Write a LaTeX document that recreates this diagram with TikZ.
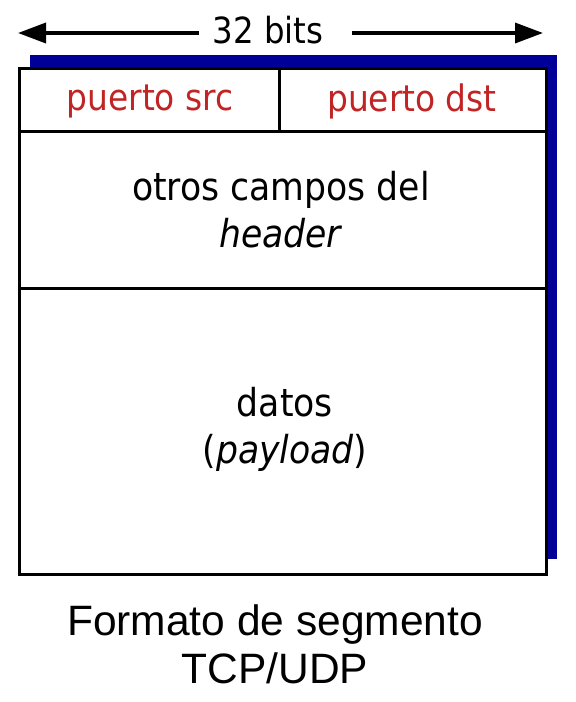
\documentclass[tikz,border=0pt]{standalone}
\usepackage{fontspec}
\setmainfont{DejaVu Sans Condensed}
\newfontfamily\captionfont{Liberation Sans}
\usetikzlibrary{arrows.meta}
\definecolor{portred}{RGB}{192,36,36}
\definecolor{shadowblue}{RGB}{0,0,153}
\tikzset{
  frame/.style={draw=black, line width=3pt},
  fieldtext/.style={font=\fontsize{38.5}{47}\selectfont, align=center, inner sep=0pt},
  porttext/.style={font=\fontsize{36.5}{44}\selectfont, inner sep=0pt, text=portred},
  bitstext/.style={font=\fontsize{36}{44}\selectfont, inner sep=0pt},
  widtharrow/.style={line width=3.5pt, -{Triangle[length=28pt,width=20pt]}},
  captiontext/.style={font=\captionfont\fontsize{42.5}{48}\selectfont, align=center, inner sep=0pt}
}
\begin{document}
\begin{tikzpicture}[x=1pt, y=-1pt]
  \useasboundingbox (0,0) rectangle (576,702);
  % drop shadow behind the segment box
  \fill[shadowblue] (30,55) rectangle (557,559);
  % segment box and its field dividers
  \filldraw[frame, fill=white] (19,68) rectangle (546,574);
  \draw[frame] (19,131) -- (546,131);
  \draw[frame] (279,68) -- (279,131);
  \draw[frame] (19,288) -- (546,288);
  % width label with arrows
  \node[bitstext] (bits) at (268,30) {32 bits};
  \coordinate (lefttip) at (18,33);
  \coordinate (righttip) at (543,33);
  \draw[widtharrow] (199,33) -- (lefttip);
  \draw[widtharrow] (352,33) -- (righttip);
  % field labels
  \node[porttext] (src) at (150,101) {puerto src};
  \node[porttext] (dst) at (412,101) {puerto dst};
  \node[fieldtext] (hdr) at (281,210) {otros campos del\\\textit{header}};
  \node[fieldtext] (data) at (285,429) {datos\\(\textit{payload})};
  % caption
  \node[captiontext] (cap) at (275,644) {Formato de segmento\\TCP/UDP};
\end{tikzpicture}
\end{document}
